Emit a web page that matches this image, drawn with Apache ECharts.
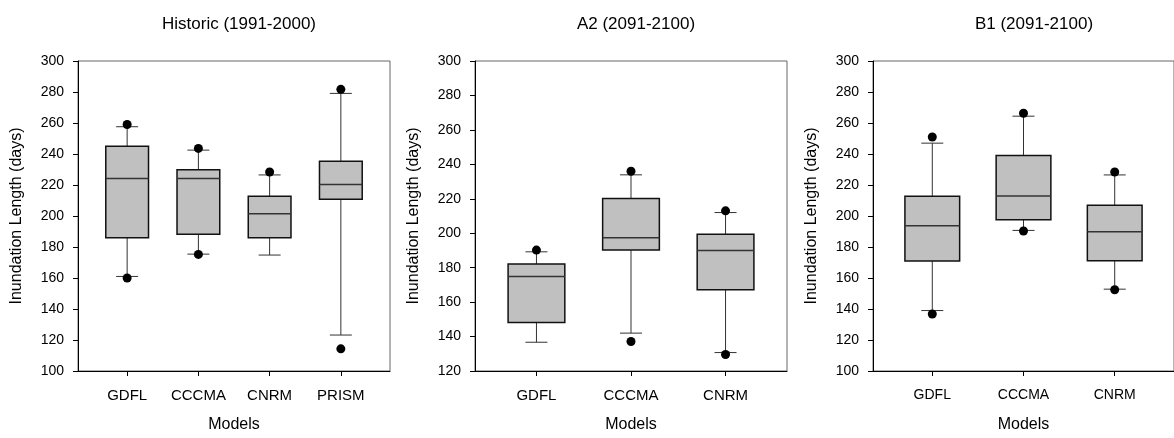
<!DOCTYPE html>
<html>
<head>
<meta charset="utf-8">
<script src="https://cdn.jsdelivr.net/npm/echarts@6/dist/echarts.min.js"></script>
<style>
  html, body { margin: 0; padding: 0; background: #fff; }
  #chart { width: 1174px; height: 438px; }
</style>
</head>
<body>
<div id="chart"></div>
<script>
// box data: [low whisker, q1, median, q3, high whisker]
const histCats = ['GDFL', 'CCCMA', 'CNRM', 'PRISM'];
const histBoxes = [
    [161, 186, 224.2, 245, 257.6],
    [175.4, 188.2, 224.2, 229.9, 242.5],
    [174.8, 186, 201.4, 212.7, 226.5],
    [123.2, 210.8, 220.3, 235.3, 279.1]
];
const histDots = [[1, 259], [1, 160], [2, 243.6], [2, 175.2], [3, 228.4], [4, 281.7], [4, 114.3]];

const a2Cats = ['GDFL', 'CCCMA', 'CNRM'];
const a2Boxes = [
    [136.7, 148.2, 174.8, 182.1, 189.2],
    [142, 190.2, 197.4, 220.1, 233.9],
    [130.7, 167.2, 190, 199.4, 212]
];
const a2Dots = [[1, 190.2], [2, 236], [2, 137.1], [3, 213], [3, 129.6]];

const b1Cats = ['GDFL', 'CCCMA', 'CNRM'];
const b1Boxes = [
    [139, 170.9, 193.7, 212.7, 247],
    [190.7, 197.6, 212.9, 239.1, 264.4],
    [152.8, 171.1, 189.9, 206.9, 226.5]
];
const b1Dots = [[1, 251], [1, 136.8], [2, 266.3], [2, 190.3], [3, 228.4], [3, 152.4]];

const titles = ['Historic (1991-2000)', 'A2 (2091-2100)', 'B1 (2091-2100)'];

const FONT = 'Liberation Sans, Arial, sans-serif';

function renderBox(params, api) {
    const x = api.value(0);
    const lo = api.coord([x, api.value(1)]);
    const q1 = api.coord([x, api.value(2)]);
    const med = api.coord([x, api.value(3)]);
    const q3 = api.coord([x, api.value(4)]);
    const hi = api.coord([x, api.value(5)]);
    const left = api.coord([x - 0.3, 0])[0];
    const right = api.coord([x + 0.3, 0])[0];
    const cx = lo[0];
    const cap = 11;
    const wStyle = { stroke: '#333', lineWidth: 1 };
    return {
        type: 'group',
        children: [
            { type: 'line', shape: { x1: cx, y1: hi[1], x2: cx, y2: q3[1] }, style: wStyle },
            { type: 'line', shape: { x1: cx, y1: q1[1], x2: cx, y2: lo[1] }, style: wStyle },
            { type: 'line', shape: { x1: cx - cap, y1: hi[1], x2: cx + cap, y2: hi[1] }, style: wStyle },
            { type: 'line', shape: { x1: cx - cap, y1: lo[1], x2: cx + cap, y2: lo[1] }, style: wStyle },
            {
                type: 'rect',
                shape: { x: left, y: q3[1], width: right - left, height: q1[1] - q3[1] },
                style: { fill: '#c0c0c0', stroke: '#111', lineWidth: 1.5 }
            },
            { type: 'line', shape: { x1: left, y1: med[1], x2: right, y2: med[1] }, style: { stroke: '#333', lineWidth: 1.5 } }
        ]
    };
}

const panels = [
    { cats: histCats, boxes: histBoxes, dots: histDots, left: 78, min: 100, xmin: 0.31, xmax: 4.69, center: 234 },
    { cats: a2Cats, boxes: a2Boxes, dots: a2Dots, left: 475, min: 120, xmin: 0.35, xmax: 3.65, center: 631 },
    { cats: b1Cats, boxes: b1Boxes, dots: b1Dots, left: 873, min: 100, xmin: 0.35, xmax: 3.65, center: 1029 }
];

const option = {
    animation: false,
    backgroundColor: '#fff',
    title: [],
    grid: [],
    xAxis: [],
    yAxis: [],
    series: []
};

panels.forEach(function (p, i) {
    const ticks = p.cats.map(function (c, k) { return k + 1; });
    option.title.push({
        text: titles[i],
        left: p.center,
        top: 11,
        textAlign: 'center',
        textStyle: { fontFamily: FONT, fontSize: 17, fontWeight: 'normal', color: '#000' }
    });
    option.grid.push({
        left: p.left, top: 61, width: 312, height: 313,
        show: true, borderColor: '#666', borderWidth: 1, backgroundColor: 'transparent'
    });
    option.xAxis.push({
        type: 'value',
        gridIndex: i,
        min: p.xmin,
        max: p.xmax,
        name: 'Models',
        nameLocation: 'middle',
        nameGap: 46,
        nameTextStyle: { fontFamily: FONT, fontSize: 16, color: '#000' },
        axisLine: { show: true, lineStyle: { color: '#000', width: 1 } },
        axisTick: { show: true, length: 5, customValues: ticks, lineStyle: { color: '#000' } },
        axisLabel: {
            customValues: ticks,
            margin: 17,
            fontFamily: FONT,
            fontSize: i === 2 ? 14 : 15,
            color: '#000',
            formatter: function (v) { return p.cats[Math.round(v) - 1]; }
        },
        splitLine: { show: false }
    });
    option.yAxis.push({
        type: 'value',
        gridIndex: i,
        min: p.min,
        max: 300,
        interval: 20,
        name: 'Inundation Length (days)',
        nameLocation: 'middle',
        nameGap: 53,
        nameTextStyle: { fontFamily: FONT, fontSize: 16, color: '#000' },
        axisLine: { show: true, lineStyle: { color: '#000', width: 1 } },
        axisTick: { show: true, length: 5, lineStyle: { color: '#000' } },
        axisLabel: { fontFamily: FONT, fontSize: 14, color: '#000', margin: 14 },
        splitLine: { show: false }
    });
    option.series.push({
        type: 'custom',
        xAxisIndex: i,
        yAxisIndex: i,
        renderItem: renderBox,
        encode: { x: 0, y: [1, 2, 3, 4, 5] },
        data: p.boxes.map(function (b, k) { return [k + 1].concat(b); }),
        z: 2
    });
    option.series.push({
        type: 'scatter',
        xAxisIndex: i,
        yAxisIndex: i,
        symbol: 'circle',
        symbolSize: 9,
        itemStyle: { color: '#000', opacity: 1 },
        data: p.dots,
        z: 3
    });
});

const chart = echarts.init(document.getElementById('chart'));
chart.setOption(option);
</script>
</body>
</html>
